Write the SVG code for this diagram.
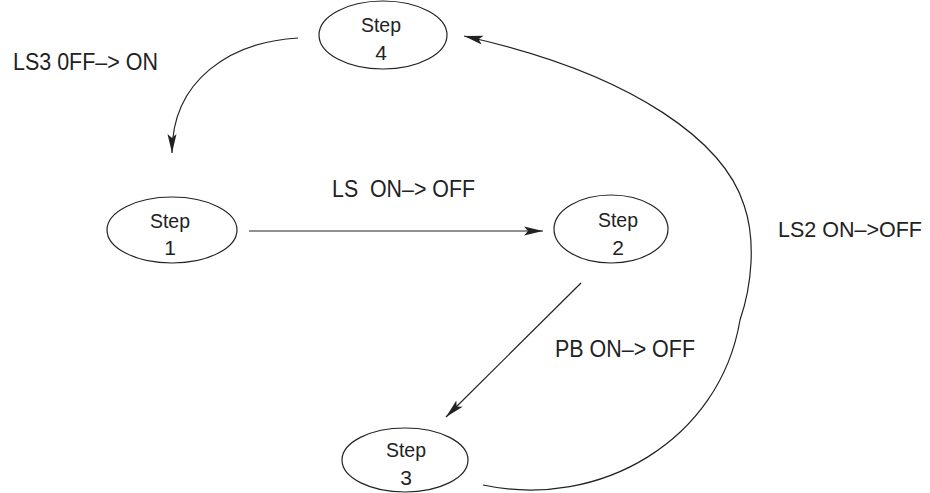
<svg xmlns="http://www.w3.org/2000/svg" width="930" height="493" viewBox="0 0 930 493">
  <style>
    .node { fill: #fff; stroke: #222; stroke-width: 1.2; }
    .lbl { font-family: "Liberation Sans", Arial, sans-serif; font-size: 21px; fill: #222; text-anchor: middle; }
    .edge-lbl { font-family: "Liberation Sans", Arial, sans-serif; font-size: 23px; fill: #222; }
    .edge { fill: none; stroke: #222; stroke-width: 1.2; }
  </style>
  <defs>
    <marker id="arrow" markerUnits="userSpaceOnUse" viewBox="-20 -6 22 12" refX="0" refY="0" markerWidth="22" markerHeight="12" orient="auto">
      <path d="M0,0 L-19,-4.5 L-15,0 L-19,4.5 Z" fill="#222"/>
    </marker>
  </defs>
  <rect width="930" height="493" fill="#fff"/>

  <g id="connectors">
    <path class="edge" d="M298,38 C230,42 172,80 172,153" marker-end="url(#arrow)"/>
    <path class="edge" d="M249,231 L543,231" marker-end="url(#arrow)"/>
    <path class="edge" d="M581,283 L446,417" marker-end="url(#arrow)"/>
    <path class="edge" d="M483,485 C600,510 720,440 740,320 C752,285 756,240 744,205 C725,145 640,75 464,36" marker-end="url(#arrow)"/>
  </g>

  <g id="edge-labels">
    <text class="edge-lbl" x="13" y="70" textLength="145" lengthAdjust="spacingAndGlyphs">LS3 0FF–&gt; ON</text>
    <text class="edge-lbl" x="332" y="197" textLength="143" lengthAdjust="spacingAndGlyphs" xml:space="preserve">LS  ON–&gt; OFF</text>
    <text class="edge-lbl" x="555" y="357" textLength="140" lengthAdjust="spacingAndGlyphs">PB ON–&gt; OFF</text>
    <text class="edge-lbl" x="778" y="237" style="font-size:22px" textLength="144" lengthAdjust="spacingAndGlyphs">LS2 ON–&gt;OFF</text>
  </g>

  <g id="step4">
    <ellipse class="node" cx="383" cy="35" rx="64" ry="34"/>
    <text class="lbl" x="381" y="32" textLength="40" lengthAdjust="spacingAndGlyphs">Step</text>
    <text class="lbl" x="381" y="60">4</text>
  </g>
  <g id="step1">
    <ellipse class="node" cx="172" cy="230" rx="65" ry="33"/>
    <text class="lbl" x="170" y="228" textLength="40" lengthAdjust="spacingAndGlyphs">Step</text>
    <text class="lbl" x="170" y="255">1</text>
  </g>
  <g id="step2">
    <ellipse class="node" cx="611" cy="229" rx="57" ry="34"/>
    <text class="lbl" x="618" y="227" textLength="40" lengthAdjust="spacingAndGlyphs">Step</text>
    <text class="lbl" x="618" y="255">2</text>
  </g>
  <g id="step3">
    <ellipse class="node" cx="405" cy="460" rx="63" ry="32"/>
    <text class="lbl" x="406" y="457" textLength="40" lengthAdjust="spacingAndGlyphs">Step</text>
    <text class="lbl" x="406" y="485">3</text>
  </g>
</svg>
